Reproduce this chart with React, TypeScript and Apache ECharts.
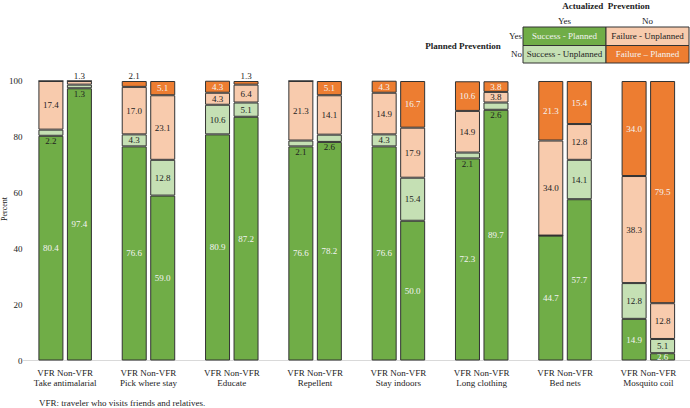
import React, { useEffect, useRef } from "react";
import * as echarts from "echarts";

const categories = [
  "Take antimalarial",
  "Pick where stay",
  "Educate",
  "Repellent",
  "Stay indoors",
  "Long clothing",
  "Bed nets",
  "Mosquito coil",
];
const groupLabels = ["VFR", "Non-VFR"];
const yTicks = [0, 20, 40, 60, 80, 100];

const vfrSuccessPlanned = [80.4, 76.6, 80.9, 76.6, 76.6, 72.3, 44.7, 14.9];
const vfrSuccessUnplanned = [2.2, 4.3, 10.6, 2.1, 4.3, 2.1, 0, 12.8];
const vfrFailureUnplanned = [17.4, 17.0, 4.3, 21.3, 14.9, 14.9, 34.0, 38.3];
const vfrFailurePlanned = [0, 2.1, 4.3, 0, 4.3, 10.6, 21.3, 34.0];

const nonSuccessPlanned = [97.4, 59.0, 87.2, 78.2, 50.0, 89.7, 57.7, 2.6];
const nonSuccessUnplanned = [1.3, 12.8, 5.1, 2.6, 15.4, 2.6, 14.1, 5.1];
const nonFailureUnplanned = [1.3, 23.1, 6.4, 14.1, 17.9, 3.8, 12.8, 12.8];
const nonFailurePlanned = [0, 5.1, 1.3, 5.1, 16.7, 3.8, 15.4, 79.5];

const segmentNames = ["Success - Planned", "Success - Unplanned", "Failure - Unplanned", "Failure – Planned"];
const segmentColors = ["#70AD47", "#C5E0B4", "#F8CBAD", "#ED7D31"];
const segmentTextColors = ["#f4f4f4", "#222222", "#222222", "#f4f4f4"];

const FONT = "Liberation Serif";
const DARK = "#222222";
const BORDER = "#333333";

function buildSeries(stack: string, segs: number[][]) {
  return segs.map((vals, si) => ({
    name: stack + " " + segmentNames[si],
    type: "bar",
    stack,
    barWidth: 25,
    barGap: "14%",
    itemStyle: { color: segmentColors[si], borderColor: BORDER, borderWidth: 1 },
    data: vals.map((v, ci) => {
      let lastNonZero = 0;
      segs.forEach((s, k) => {
        if (s[ci] > 0) lastNonZero = k;
      });
      let label: any;
      if (v === 0) {
        label = { show: false };
      } else if (si === 1 && v < 3) {
        label = { show: true, position: "bottom", distance: 1, color: DARK };
      } else if (si === lastNonZero && si > 0 && v < 3) {
        label = { show: true, position: "top", distance: 1, color: DARK };
      } else {
        label = { show: true, position: "inside", color: segmentTextColors[si] };
      }
      return { value: v, label };
    }),
    label: {
      fontFamily: FONT,
      fontSize: 9,
      formatter: (p: any) => Number(p.value).toFixed(1),
    },
  }));
}

export default function App() {
  const ref = useRef<HTMLDivElement>(null);

  useEffect(() => {
    if (!ref.current) return;
    const chart = echarts.init(ref.current, null, { renderer: "svg" });

    const legendLeft = 523;
    const legendMid = 606;
    const legendRight = 689;
    const rowTop = 27;
    const rowMid = 45.5;
    const rowBottom = 63;

    const cell = (x1: number, y1: number, x2: number, y2: number, si: number) => [
      {
        type: "rect",
        shape: { x: x1, y: y1, width: x2 - x1, height: y2 - y1 },
        style: { fill: segmentColors[si], stroke: BORDER, lineWidth: 1 },
      },
      {
        type: "text",
        x: (x1 + x2) / 2,
        y: (y1 + y2) / 2,
        style: {
          text: segmentNames[si],
          fill: segmentTextColors[si],
          fontFamily: FONT,
          fontSize: 9,
          align: "center",
          verticalAlign: "middle",
        },
      },
    ];

    const txt = (x: number, y: number, text: string, opts: any = {}) => ({
      type: "text",
      x,
      y,
      rotation: opts.rotation || 0,
      style: {
        text,
        fill: DARK,
        fontFamily: FONT,
        fontSize: opts.size || 9,
        fontWeight: opts.bold ? "bold" : "normal",
        align: opts.align || "center",
        verticalAlign: "middle",
      },
    });

    chart.setOption({
      animation: false,
      textStyle: { fontFamily: FONT },
      grid: { left: 23.5, top: 81, width: 681, height: 279.5, containLabel: false },
      xAxis: {
        type: "category",
        data: categories,
        axisLine: { show: true, lineStyle: { color: "#d9d9d9", width: 1 } },
        axisTick: { show: false },
        axisLabel: {
          interval: 0,
          margin: 7,
          fontFamily: FONT,
          fontSize: 9,
          lineHeight: 10,
          color: DARK,
          formatter: (v: string) => `${groupLabels.join(" ")}\n${v}`,
        },
      },
      yAxis: {
        type: "value",
        min: yTicks[0],
        max: yTicks[yTicks.length - 1],
        interval: 20,
        axisLine: { show: false },
        axisTick: { show: false },
        splitLine: { show: false },
        axisLabel: { margin: 1, fontFamily: FONT, fontSize: 9, color: DARK },
      },
      series: [
        ...buildSeries("VFR", [vfrSuccessPlanned, vfrSuccessUnplanned, vfrFailureUnplanned, vfrFailurePlanned]),
        ...buildSeries("Non-VFR", [nonSuccessPlanned, nonSuccessUnplanned, nonFailureUnplanned, nonFailurePlanned]),
      ],
      graphic: [
        txt(4, 209, "Percent", { rotation: Math.PI / 2, size: 8 }),
        txt(39, 403, "VFR: traveler who visits friends and relatives.", { align: "left" }),
        txt((legendLeft + legendRight) / 2, 6, "Actualized  Prevention", { bold: true }),
        txt((legendLeft + legendMid) / 2, 20.5, "Yes"),
        txt((legendMid + legendRight) / 2, 20.5, "No"),
        txt(522, (rowTop + rowMid) / 2, "Yes", { align: "right" }),
        txt(522, (rowMid + rowBottom) / 2, "No", { align: "right" }),
        txt(463, 45.5, "Planned Prevention", { bold: true }),
        ...cell(legendLeft, rowTop, legendMid, rowMid, 0),
        ...cell(legendMid, rowTop, legendRight, rowMid, 2),
        ...cell(legendLeft, rowMid, legendMid, rowBottom, 1),
        ...cell(legendMid, rowMid, legendRight, rowBottom, 3),
      ],
    });

    return () => chart.dispose();
  }, []);

  return (
    <div
      ref={ref}
      style={{ position: "absolute", left: 0, top: 0, width: 690, height: 408, background: "#fff" }}
    />
  );
}
